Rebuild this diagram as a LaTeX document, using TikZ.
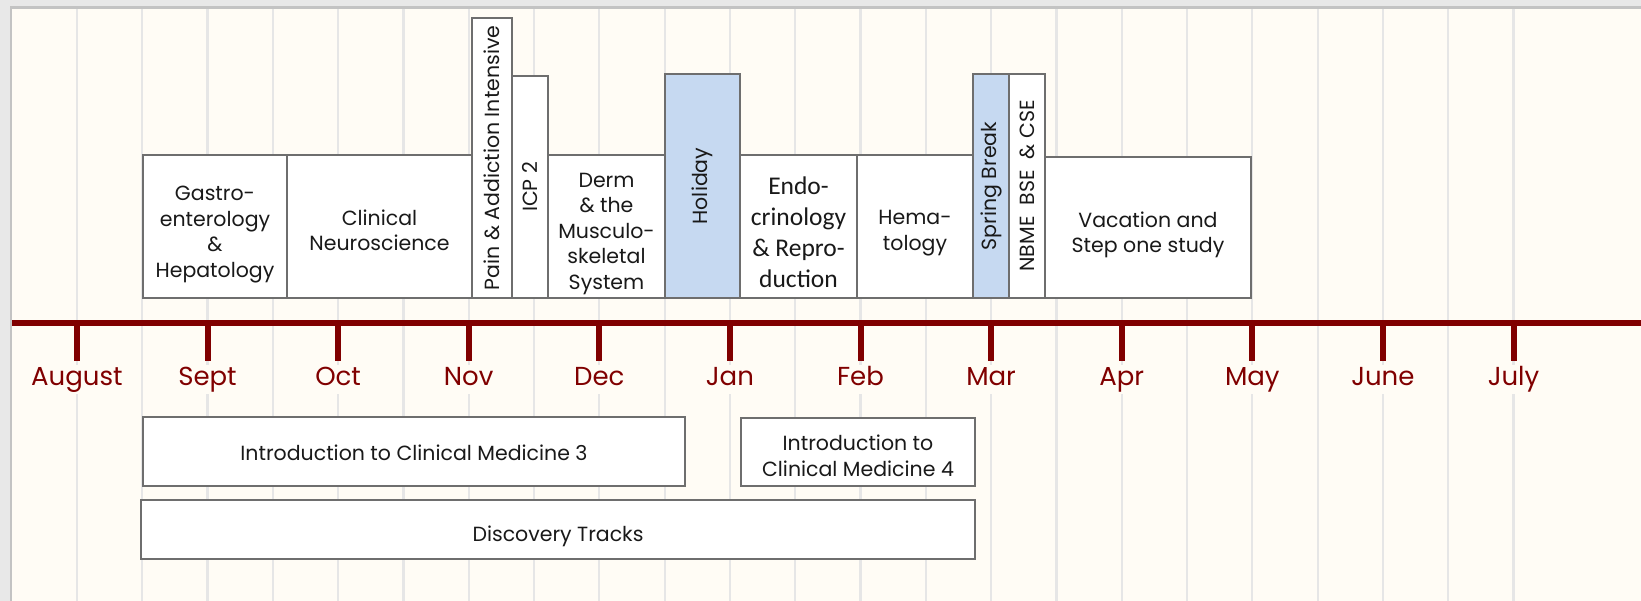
\documentclass[tikz,border=0pt]{standalone}
\usepackage{fontspec}
\setmainfont{Poppins}
\newfontfamily\calibrifont{Carlito}
\usepackage{tikz}
\usetikzlibrary{
	positioning,									% 节点的高级摆放
}
\definecolor{paper}{RGB}{255,252,245}
\definecolor{frameout}{RGB}{232,232,232}
\definecolor{frameline}{RGB}{195,195,195}
\definecolor{gridgray}{RGB}{230,230,230}
\definecolor{axisred}{RGB}{128,0,0}
\definecolor{boxgray}{RGB}{110,110,110}
\definecolor{breakblue}{RGB}{198,217,241}
\tikzset{
	course/.style={draw=boxgray, line width=2pt, fill=white, anchor=south west,
		inner sep=0pt, outer sep=0pt},
	breakbox/.style={course, fill=breakblue},
	coursetext/.style={inner sep=0pt, align=center, text=black!90,
		font=\fontsize{20.5}{25.5}\selectfont},
	vtext/.style={coursetext, rotate=90},
	month/.style={text=axisred, fill=paper, inner sep=2pt, anchor=base,
		text height=19pt, text depth=6pt,
		font=\fontsize{26}{30}\selectfont},
	gridline/.style={gridgray, line width=2.2pt},
}

\begin{document}
\begin{tikzpicture}[x=1pt, y=-1pt]
	\useasboundingbox (0,0) rectangle (1641,601);
	% 背景与边框
	\fill[frameout] (0,0) rectangle (1641,601);
	\fill[paper] (11,7.5) rectangle (1641,601);
	\draw[frameline, line width=2.5pt] (11,601) -- (11,7.5) -- (1641,7.5);
	% 半月网格线
	\foreach \i in {1,...,23}
		\draw[gridline] (11.6+65.3*\i, 9) -- (11.6+65.3*\i, 601);
	% 时间轴与月份
	\draw[axisred, line width=6.5pt] (12,323) -- (1641,323);
	\foreach \m [count=\k from 0] in {August,Sept,Oct,Nov,Dec,Jan,Feb,Mar,Apr,May,June,July} {
		\draw[axisred, line width=6pt] (76.9+130.6*\k, 323) -- (76.9+130.6*\k, 361);
		\node[month] (m\k) at (76.9+130.6*\k, 386) {\m};
	}
	% 上排课程（文字略低于框中心）
	\node[course, minimum width=144, minimum height=143] (gastro) at (143,298) {};
	\node[coursetext, yshift=-8pt] (gastrotxt) at (gastro) {Gastro-\\enterology\\\&\\Hepatology};
	\node[course, minimum width=185, minimum height=143] (neuro) at (gastro.south east) {};
	\node[coursetext, yshift=-4pt] (neurotxt) at (neuro) {Clinical\\Neuroscience};
	\node[course, minimum width=40, minimum height=280] (pain) at (neuro.south east) {};
	\node[vtext] (paintxt) at (pain) {Pain \& Addiction Intensive};
	\node[course, minimum width=36, minimum height=222] (icp) at (pain.south east) {};
	\node[vtext] (icptxt) at (icp) {ICP 2};
	\node[course, minimum width=117, minimum height=143] (derm) at (icp.south east) {};
	\node[coursetext, yshift=-7.5pt] (dermtxt) at (derm) {Derm\\\& the\\Musculo-\\skeletal\\System};
	\node[breakbox, minimum width=75, minimum height=224] (holiday) at (derm.south east) {};
	\node[vtext] (holidaytxt) at (holiday) {Holiday};
	\node[course, minimum width=117, minimum height=143] (endo) at (holiday.south east) {};
	\node[coursetext, yshift=-6pt, font=\calibrifont\fontsize{25.5}{31}\selectfont] (endotxt)
		at (endo) {Endo-\\crinology\\\& Repro-\\duction};
	\node[course, minimum width=116, minimum height=143] (hema) at (endo.south east) {};
	\node[coursetext, yshift=-6.5pt] (hematxt) at (hema) {Hema-\\tology};
	\node[breakbox, minimum width=36, minimum height=224] (spring) at (hema.south east) {};
	\node[vtext] (springtxt) at (spring) {Spring Break};
	\node[course, minimum width=36, minimum height=224] (nbme) at (spring.south east) {};
	\node[vtext] (nbmetxt) at (nbme) {NBME\ \ BSE\ \ \& CSE};
	\node[course, minimum width=206, minimum height=141] (vacation) at (nbme.south east) {};
	\node[coursetext, yshift=-7.5pt] (vacationtxt) at (vacation) {Vacation and\\Step one study};
	% 下排课程
	\node[course, minimum width=542, minimum height=69] (icm3) at (143,486) {};
	\node[coursetext, yshift=-1pt] (icm3txt) at (icm3) {Introduction to Clinical Medicine 3};
	\node[course, minimum width=234, minimum height=68] (icm4) at (741,486) {};
	\node[coursetext, yshift=-4pt] (icm4txt) at (icm4) {Introduction to\\Clinical Medicine 4};
	\node[course, minimum width=834, minimum height=59] (tracks) at (141,559) {};
	\node[coursetext, yshift=-6.5pt] (trackstxt) at (tracks) {Discovery Tracks};
\end{tikzpicture}
\end{document}
